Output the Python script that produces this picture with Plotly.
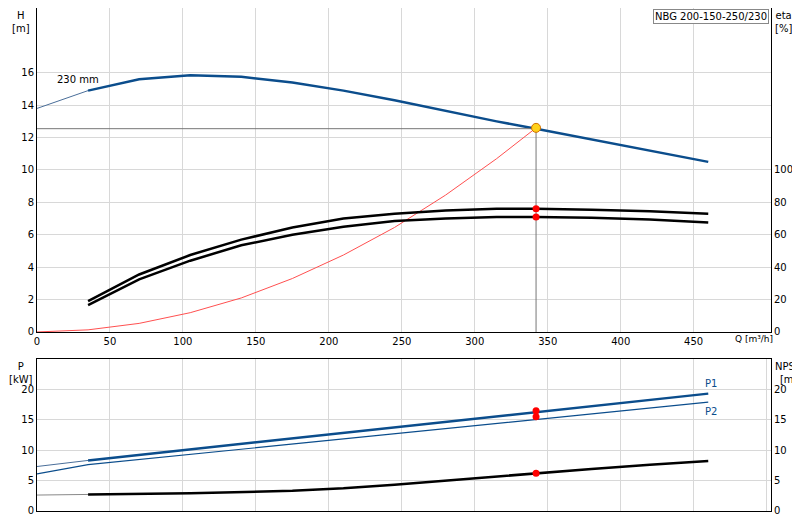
import plotly.graph_objects as go

q_h = [0, 35, 70, 105, 140, 175, 210, 245, 280, 315, 342, 380, 420, 460]
h = [13.8, 14.9, 15.6, 15.85, 15.75, 15.4, 14.9, 14.3, 13.65, 13.0, 12.55, 11.9, 11.2, 10.5]
q_e = [35, 70, 105, 140, 175, 210, 245, 280, 315, 342, 380, 420, 460]
eta1 = [19, 35.5, 47.5, 57, 64.5, 70, 73, 75, 76, 76, 75.5, 74.5, 73]
eta2 = [16.5, 32.5, 44, 53.5, 60, 65, 68.5, 70, 71, 71, 70.5, 69.5, 67.5]
q_s = [0, 35, 70, 105, 140, 175, 210, 245, 280, 315, 342]
h_sys = [0, 0.13, 0.53, 1.19, 2.1, 3.3, 4.75, 6.45, 8.45, 10.7, 12.6]
q_p = [0, 35, 460]
p1 = [7.3, 8.3, 19.3]
p2 = [6.1, 7.6, 17.9]
q_n = [0, 35, 105, 175, 210, 245, 280, 315, 342, 380, 420, 460]
npsh = [2.6, 2.7, 2.9, 3.3, 3.7, 4.3, 5.0, 5.7, 6.2, 6.9, 7.6, 8.2]
q_op = 342
h_op = 12.6
eta_op = [76, 71]
p_op = [16.5, 15.5]
npsh_op = 6.2

BLUE = "#0b4d8c"
fig = go.Figure()
def line(x, y, xa, ya, color, w):
    fig.add_trace(go.Scatter(x=x, y=y, xaxis=xa, yaxis=ya, mode="lines",
                             line=dict(color=color, width=w), hoverinfo="skip"))

line(q_h[:2], h[:2], "x", "y", "#4a6e99", 1)
line(q_h[1:], h[1:], "x", "y", BLUE, 2.5)
line([0, q_op], [12.55, 12.55], "x", "y", "#777", 1)
line([q_op, q_op], [12.55, 0], "x", "y", "#777", 1)
line(q_s, h_sys, "x", "y", "#ff5050", 1)
line(q_e, eta1, "x", "y2", "black", 2.5)
line(q_e, eta2, "x", "y2", "black", 2.5)
fig.add_trace(go.Scatter(x=[q_op]*2, y=eta_op, xaxis="x", yaxis="y2", mode="markers",
                         marker=dict(color="red", size=7), hoverinfo="skip"))
fig.add_trace(go.Scatter(x=[q_op], y=[h_op], mode="markers",
                         marker=dict(color="#ffd11a", size=9, line=dict(color="#d07000", width=1)), hoverinfo="skip"))
line(q_p[:2], p1[:2], "x2", "y3", "#4a6e99", 1)
line(q_p[1:], p1[1:], "x2", "y3", BLUE, 2.5)
line(q_p, p2, "x2", "y3", BLUE, 1.2)
line(q_n[:2], npsh[:2], "x2", "y4", "#888", 1)
line(q_n[1:], npsh[1:], "x2", "y4", "black", 2.5)
fig.add_trace(go.Scatter(x=[q_op]*2, y=p_op, xaxis="x2", yaxis="y3", mode="markers",
                         marker=dict(color="red", size=7), hoverinfo="skip"))
fig.add_trace(go.Scatter(x=[q_op], y=[npsh_op], xaxis="x2", yaxis="y4", mode="markers",
                         marker=dict(color="red", size=7), hoverinfo="skip"))

grid = "#d8d8d8"
ax = dict(showgrid=True, gridcolor=grid, zeroline=False, showline=True, linecolor="black",
          ticks="", tickfont=dict(size=10, color="black"), automargin=False)
fig.update_layout(
    width=800, height=520, showlegend=False, plot_bgcolor="white", paper_bgcolor="white",
    font=dict(family="DejaVu Sans", size=10, color="black"),
    margin=dict(l=29, r=37, t=0, b=0),
    xaxis=dict(ax, range=[0, 503], domain=[0, 1], anchor="y", mirror=True,
               tickvals=list(range(0, 451, 50))),
    yaxis=dict(ax, range=[0, 20], domain=[0.377, 1], tickvals=list(range(0, 17, 2)), mirror=True),
    yaxis2=dict(ax, range=[0, 200], overlaying="y", side="right", showgrid=False,
                tickvals=list(range(0, 101, 20))),
    xaxis2=dict(ax, range=[0, 503], domain=[0, 1], anchor="y3", showticklabels=False, mirror=True,
                tickvals=list(range(0, 501, 50))),
    yaxis3=dict(ax, range=[0, 25], tickvals=[0, 5, 10, 15, 20], domain=[0.033, 0.325], mirror=True),
    yaxis4=dict(ax, range=[0, 25], overlaying="y3", side="right", showgrid=False,
                tickvals=[0, 5, 10, 15, 20]),
)
ann = [
    dict(x=-0.022, y=1.0, text="H<br>[m]", xanchor="center", yanchor="top"),
    dict(x=1.003, y=1.0, text="eta<br>[%]", xanchor="left", yanchor="top"),
    dict(x=0.948, y=0.376, text="Q [m³/h]", xanchor="left", yanchor="top", font=dict(size=9)),
    dict(x=-0.022, y=0.325, text="P<br>[kW]", xanchor="center", yanchor="top"),
    dict(x=1.003, y=0.325, text="NPSH<br>[m]", xanchor="left", yanchor="top"),
]
for a in ann:
    fig.add_annotation(xref="paper", yref="paper", showarrow=False, align="center", **a)
fig.add_annotation(x=0.997, y=0.998, xref="paper", yref="paper", text="NBG 200-150-250/230",
                   showarrow=False, xanchor="right", yanchor="top", bordercolor="#888",
                   borderwidth=1, bgcolor="white", font=dict(size=10))
fig.add_annotation(x=12, y=15.6, xref="x", yref="y", text="230 mm", showarrow=False, xanchor="left")
fig.add_annotation(x=462, y=p1[-1] + 1.7, xref="x2", yref="y3", text="P1", showarrow=False,
                   font=dict(color=BLUE, size=10))
fig.add_annotation(x=462, y=p2[-1] - 1.6, xref="x2", yref="y3", text="P2", showarrow=False,
                   font=dict(color=BLUE, size=10))
fig.write_html("out.html")
